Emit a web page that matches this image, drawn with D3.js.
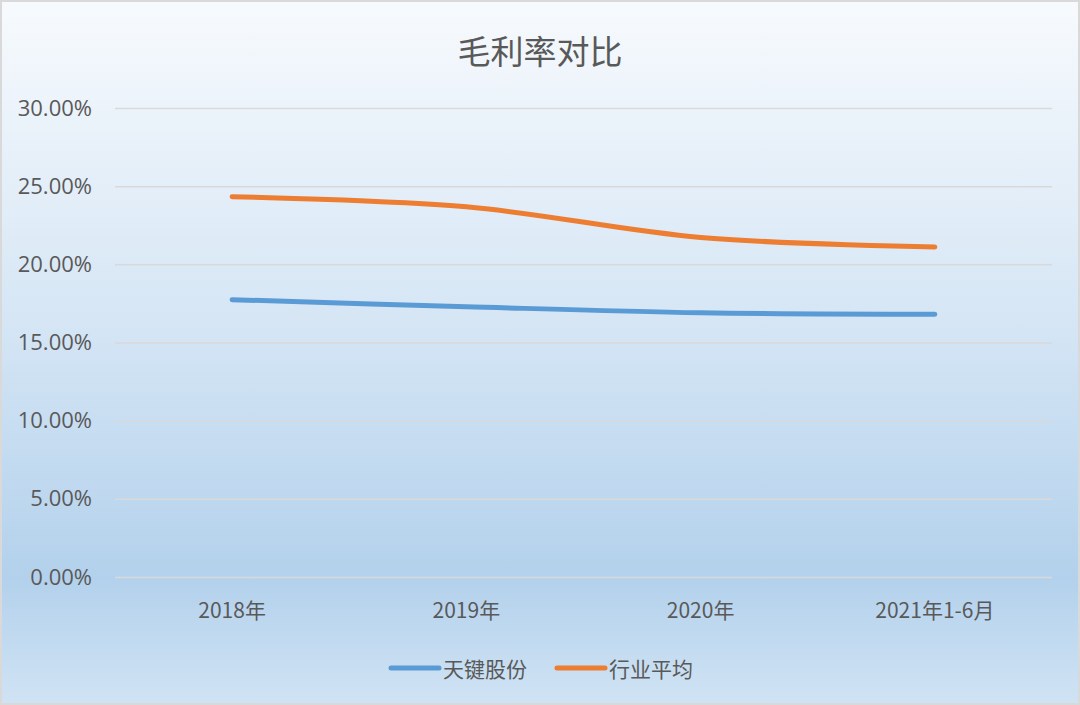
<!DOCTYPE html>
<html>
<head>
<meta charset="utf-8">
<script src="https://cdn.jsdelivr.net/npm/d3@7"></script>
<style>
html,body{margin:0;padding:0;background:#fff;}
svg{display:block;}
</style>
</head>
<body>
<svg id="chart" width="1080" height="705"></svg>
<script>
const categories = ["2018年", "2019年", "2020年", "2021年1-6月"];
const seriesNames = ["天键股份", "行业平均"];
const tianjian = [0.1774, 0.1729, 0.1690, 0.1680];
const industry = [0.2433, 0.2368, 0.2172, 0.2111];
const yTicks = [0, 0.05, 0.10, 0.15, 0.20, 0.25, 0.30];
const colors = ["#5b9bd5", "#ed7d31"];
const title = "毛利率对比";

const W = 1080, H = 705;
const svg = d3.select("#chart");
const defs = svg.append("defs");
const grad = defs.append("linearGradient").attr("id", "bg").attr("x1", 0).attr("y1", 0).attr("x2", 0).attr("y2", 1);
grad.append("stop").attr("offset", "0").attr("stop-color", "#f7fafd");
grad.append("stop").attr("offset", "0.45").attr("stop-color", "#d6e6f5");
grad.append("stop").attr("offset", "0.82").attr("stop-color", "#b3d1ec");
grad.append("stop").attr("offset", "1").attr("stop-color", "#d0e3f4");

svg.append("rect").attr("x", 1).attr("y", 1).attr("width", W - 2).attr("height", H - 2)
  .attr("fill", "url(#bg)").attr("stroke", "#d9d9d9").attr("stroke-width", 2);

const margin = {left: 115, right: 1052, top: 108, bottom: 577};
const x = d3.scaleBand().domain(categories).range([margin.left, margin.right]);
const y = d3.scaleLinear().domain([0, 0.30]).range([margin.bottom, margin.top]);

const fontLatin = "'Open Sans','Noto Sans','Noto Sans CJK SC',sans-serif";
const fontCJK = "'Noto Sans CJK SC','Noto Sans',sans-serif";

// gridlines
const yAxis = d3.axisLeft(y).tickValues(yTicks).tickFormat(d3.format(".2%"))
  .tickSize(-(margin.right - margin.left)).tickPadding(23);
const gy = svg.append("g").attr("transform", `translate(${margin.left},0)`).call(yAxis);
gy.select(".domain").remove();
gy.selectAll(".tick line").attr("stroke", "#d9d9d9").attr("stroke-width", 1.5);
gy.selectAll(".tick text").attr("fill", "#595959").attr("font-size", 22)
  .attr("font-family", fontLatin);

// x axis labels
const xAxis = d3.axisBottom(x).tickSize(0).tickPadding(26);
const gx = svg.append("g").attr("transform", `translate(0,${margin.bottom})`).call(xAxis);
gx.select(".domain").remove();
gx.selectAll(".tick text").attr("fill", "#595959").attr("font-size", 21)
  .attr("font-family", fontCJK);

// lines
const line = d3.line()
  .x((d, i) => x(categories[i]) + x.bandwidth() / 2)
  .y(d => y(d))
  .curve(d3.curveCatmullRom.alpha(0));
[tianjian, industry].forEach((s, i) => {
  svg.append("path").datum(s).attr("d", line).attr("fill", "none")
    .attr("stroke", colors[i]).attr("stroke-width", 5).attr("stroke-linecap", "round");
});

// title
svg.append("text").attr("x", 540).attr("y", 50).attr("text-anchor", "middle")
  .attr("dominant-baseline", "central").attr("fill", "#595959")
  .attr("font-size", 33).attr("font-family", fontCJK).text(title);

// legend
const legendItems = [{x: 389}, {x: 555}];
seriesNames.forEach((n, i) => {
  const lx = legendItems[i].x;
  svg.append("line").attr("x1", lx + 2).attr("x2", lx + 50).attr("y1", 668).attr("y2", 668)
    .attr("stroke", colors[i]).attr("stroke-width", 5).attr("stroke-linecap", "round");
  svg.append("text").attr("x", lx + 54).attr("y", 668).attr("dominant-baseline", "central")
    .attr("fill", "#595959").attr("font-size", 21).attr("font-family", fontCJK).text(n);
});
</script>
</body>
</html>
